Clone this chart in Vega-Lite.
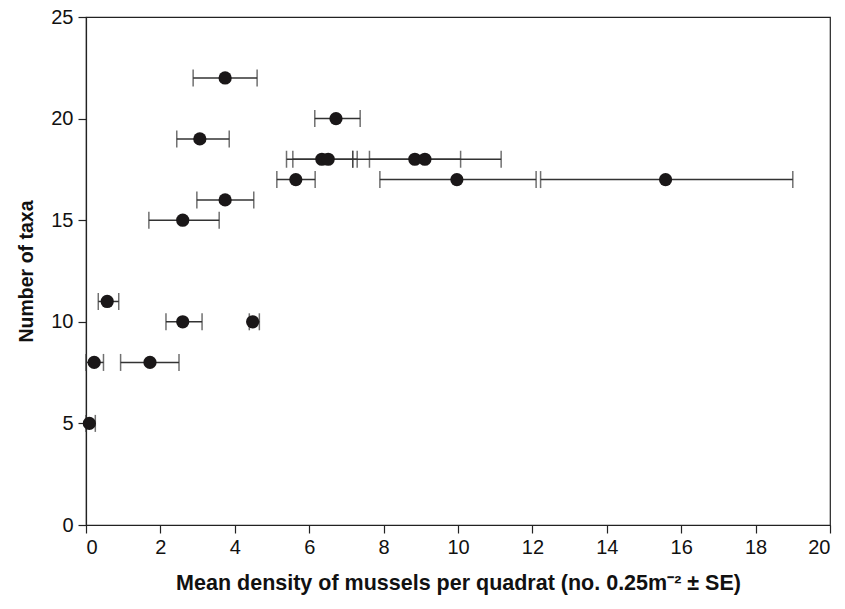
{
  "$schema": "https://vega.github.io/schema/vega-lite/v6.json",
  "width": 744,
  "height": 508,
  "autosize": "none",
  "padding": {"left": 86, "top": 17, "right": 15, "bottom": 84},
  "background": "white",
  "config": {
    "font": "Liberation Sans",
    "view": {"stroke": "#222222", "strokeWidth": 1.2},
    "axis": {
      "grid": false,
      "domainColor": "#222222",
      "domainWidth": 1.2,
      "tickColor": "#222222",
      "tickWidth": 1.2,
      "tickSize": 8,
      "labelFont": "Liberation Sans",
      "labelFontSize": 20,
      "labelColor": "#111111",
      "titleFont": "Liberation Sans",
      "titleFontWeight": "bold",
      "titleColor": "#111111"
    }
  },
  "data": {
    "values": [
      {"taxa": 22, "mean": 3.74, "lo": 2.88, "hi": 4.60},
      {"taxa": 20, "mean": 6.72, "lo": 6.15, "hi": 7.37},
      {"taxa": 19, "mean": 3.06, "lo": 2.44, "hi": 3.85},
      {"taxa": 18, "mean": 6.34, "lo": 5.39, "hi": 7.17},
      {"taxa": 18, "mean": 6.51, "lo": 5.56, "hi": 7.29},
      {"taxa": 18, "mean": 8.84, "lo": 7.62, "hi": 10.07},
      {"taxa": 18, "mean": 9.11, "lo": 7.17, "hi": 11.16},
      {"taxa": 17, "mean": 5.64, "lo": 5.13, "hi": 6.16},
      {"taxa": 17, "mean": 9.97, "lo": 7.90, "hi": 12.10},
      {"taxa": 17, "mean": 15.58, "lo": 12.22, "hi": 19.00},
      {"taxa": 16, "mean": 3.74, "lo": 2.98, "hi": 4.51},
      {"taxa": 15, "mean": 2.60, "lo": 1.69, "hi": 3.58},
      {"taxa": 11, "mean": 0.57, "lo": 0.33, "hi": 0.88},
      {"taxa": 10, "mean": 2.60, "lo": 2.15, "hi": 3.12},
      {"taxa": 10, "mean": 4.48, "lo": 4.39, "hi": 4.66},
      {"taxa": 8, "mean": 0.22, "lo": 0.0, "hi": 0.47},
      {"taxa": 8, "mean": 1.72, "lo": 0.93, "hi": 2.50},
      {"taxa": 5, "mean": 0.09, "lo": 0.0, "hi": 0.25}
    ]
  },
  "encoding": {
    "y": {
      "field": "taxa",
      "type": "quantitative",
      "scale": {"domain": [0, 25], "nice": false},
      "axis": {"values": [0, 5, 10, 15, 20, 25], "title": "Number of taxa", "titleFontSize": 19.5, "labelPadding": 5, "titlePadding": 14}
    }
  },
  "layer": [
    {
      "mark": {"type": "rule", "color": "#333333", "strokeWidth": 1.5},
      "encoding": {
        "x": {
          "field": "lo",
          "type": "quantitative",
          "scale": {"domain": [0, 20], "nice": false},
          "axis": {
            "values": [0, 2, 4, 6, 8, 10, 12, 14, 16, 18, 20],
            "title": "Mean density of mussels per quadrat (no. 0.25m⁻² ± SE)",
            "titleFontSize": 21.5,
            "labelPadding": 4,
            "titlePadding": 15
          }
        },
        "x2": {"field": "hi"}
      }
    },
    {
      "mark": {"type": "tick", "orient": "vertical", "color": "#333333", "thickness": 1.5, "size": 17},
      "encoding": {"x": {"field": "lo", "type": "quantitative"}}
    },
    {
      "mark": {"type": "tick", "orient": "vertical", "color": "#333333", "thickness": 1.5, "size": 17},
      "encoding": {"x": {"field": "hi", "type": "quantitative"}}
    },
    {
      "mark": {"type": "point", "filled": true, "shape": "circle", "size": 175, "color": "#1a1718", "opacity": 1},
      "encoding": {"x": {"field": "mean", "type": "quantitative"}}
    }
  ]
}
